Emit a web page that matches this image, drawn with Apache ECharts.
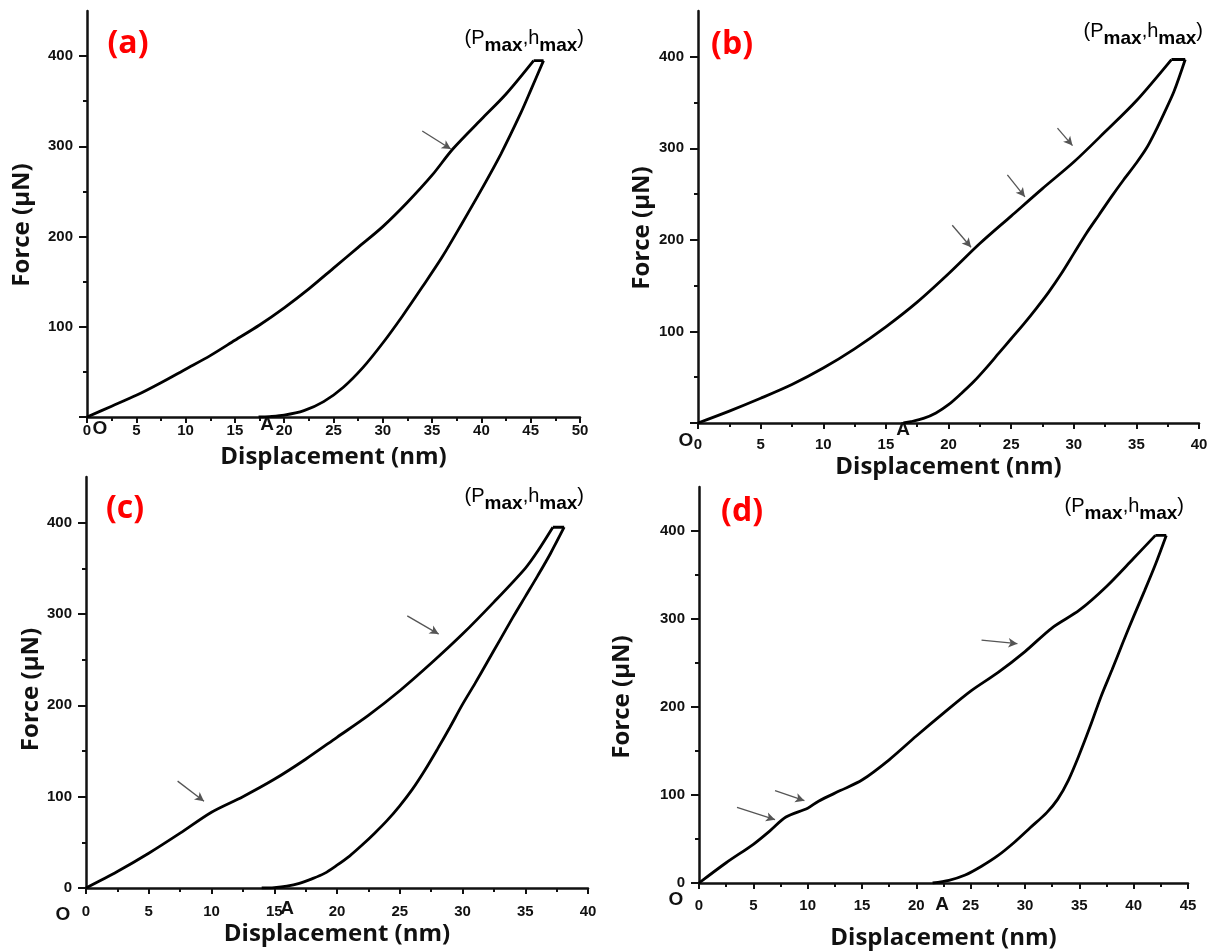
<!DOCTYPE html>
<html lang="en">
<head>
    <meta charset="UTF-8">
    <title>Load-displacement curves</title>
    <style>
        html, body { margin: 0; padding: 0; background: #fff; }
        #main { width: 1211px; height: 951px; }
    </style>
</head>
<body>
    <div id="main"></div>
    <script src="https://cdn.jsdelivr.net/npm/echarts@6/dist/echarts.min.js"></script>
    <script type="text/javascript">
        // loading / hold / unloading curves, [displacement nm, force uN]
        var loadA = [[0,0],[2.5,12],[5,24],[7.5,38],[10,53],[12.5,68],[15,85],[17.5,102],[20,121],[22.5,142],[25,165],[27.5,188],[30,211],[32.5,238],[35,268],[37.1,297],[40,330],[42.5,358],[45.3,395]];
        var holdA = [[45.3,395],[46.3,395]];
        var unloadA = [[46.3,395],[45,362],[44,337],[42,292],[40,252],[38,214],[36,177],[34,144],[32,112],[30,82],[28,55],[26,33],[24,17],[22,7],[20,2],[18.5,0.5],[17.4,0]];

        var loadB = [[0,0],[2.5,13],[5,27],[7.5,42],[10,60],[12.5,81],[15,105],[17.5,132],[20,163],[22.5,196],[25,226],[27.5,256],[30,285],[32.5,318],[35,352],[37.8,397]];
        var holdB = [[37.8,397],[38.9,397]];
        var unloadB = [[38.9,397],[38,362],[37.2,338],[36.5,318],[35.8,300],[35,284],[34,266],[33,247],[32,227],[31,207],[30,185],[29,163],[28,143],[27,125],[26,108],[25,92],[24,76],[23,60],[22,45],[21,32],[20,20],[19,11],[18,5],[17,1.5],[16.4,0]];

        var loadC = [[0,0],[2.5,18],[5,38],[7.5,60],[10,83],[12.5,100],[15,119],[17.5,141],[20,165],[22.5,189],[25,216],[27.5,246],[30,278],[32.5,313],[35,350],[36,369],[37.2,395]];
        var holdC = [[37.2,395],[38.1,395]];
        var unloadC = [[38.1,395],[37,366],[36,342],[35,319],[34,296],[33,272],[32,248],[31,224],[30,201],[29,176],[28,152],[27,129],[26,108],[25,90],[24,74],[23,60],[22,47],[21,35],[20,25],[19,16],[18,10],[17,5],[16,2],[15,0.5],[14,0]];

        var loadD = [[0,0],[2.5,23],[5,44],[6.5,59],[8,75],[10,85],[11,93],[13,105],[15,117],[17.5,140],[20,167],[22.5,193],[25,218],[27.5,239],[30,263],[32.5,290],[35,310],[37.5,337],[40,369],[42,395]];
        var holdD = [[42,395],[43,395]];
        var unloadD = [[43,395],[42,362],[41,332],[40,303],[39,273],[38,242],[37,212],[36,178],[35,146],[34,117],[33,95],[32,80],[30.5,63],[29,46],[27.5,31],[26,19],[24.5,9],[23,3],[21.5,0]];

        // arrows pointing at pop-in events, [from, to]
        var arrowsA = [[[34.0,317],[36.9,297]]];
        var arrowsB = [[[20.3,216],[21.8,192]], [[24.7,271],[26.1,247]], [[28.7,322],[29.9,303]]];
        var arrowsC = [[[7.3,117],[9.4,95]], [[25.6,298],[28.1,278]]];
        var arrowsD = [[[3.5,86],[7.0,72]], [[7.0,105],[9.7,93.5]], [[26.0,276],[29.3,272]]];

        var xMax = [50, 40, 40, 45];
        var yTicks = [0, 100, 200, 300, 400];

        var grids = [
            { left: 87, top: 11, width: 493, height: 406 },
            { left: 698, top: 11, width: 501, height: 412 },
            { left: 86, top: 477, width: 502, height: 411 },
            { left: 699, top: 487, width: 489, height: 396 }
        ];
        var xLabelMargin = [6, 14, 16, 15];
        var xNameGap = [28, 32, 34, 43];
        var yNameGap = [53, 44, 43, 65];
        var yNameShift = [22, 22, 14, 24];
        var showZero = [false, false, true, true];

        var tickFont = { color: '#111', fontSize: 15, fontWeight: 'bold', fontFamily: 'Liberation Sans, Arial, sans-serif' };
        var nameFontBase = { color: '#111', fontSize: 24, fontWeight: 'bold', fontFamily: 'Open Sans, Liberation Sans, sans-serif' };

        var xAxes = [], yAxes = [], series = [];
        for (var i = 0; i < 4; i++) {
            xAxes.push({
                type: 'value', gridIndex: i, min: 0, max: xMax[i], interval: 5,
                name: 'Displacement (nm)', nameLocation: 'middle', nameGap: xNameGap[i],
                nameTextStyle: nameFontBase,
                axisLine: { lineStyle: { color: '#111', width: 2.5 } },
                axisTick: { inside: false, length: 6, lineStyle: { color: '#111', width: 2 } },
                minorTick: { show: true, splitNumber: 2, length: 4, lineStyle: { color: '#111', width: 2 } },
                axisLabel: Object.assign({ margin: xLabelMargin[i] }, tickFont),
                splitLine: { show: false }
            });
            (function (zero, shift) {
                yAxes.push({
                    type: 'value', gridIndex: i, min: 0, max: 450, interval: 100,
                    name: 'Force (\u03bcN)', nameLocation: 'middle', nameGap: yNameGap[i], nameRotate: 90,
                    nameTextStyle: Object.assign({ padding: [0, shift, 0, 0] }, nameFontBase),
                    axisLine: { lineStyle: { color: '#111', width: 2.5 } },
                    axisTick: { inside: false, length: 8, customValues: yTicks, lineStyle: { color: '#111', width: 2 } },
                    minorTick: { show: true, splitNumber: 2, length: 4, lineStyle: { color: '#111', width: 2 } },
                    axisLabel: Object.assign({
                        margin: 14,
                        customValues: zero ? yTicks : yTicks.slice(1),
                        formatter: function (v) {
                            if (v > 400) return '';
                            if (v === 0 && !zero) return '';
                            return v;
                        }
                    }, tickFont),
                    splitLine: { show: false }
                });
            })(showZero[i], yNameShift[i]);
        }

        var loads = [loadA, loadB, loadC, loadD];
        var holds = [holdA, holdB, holdC, holdD];
        var unloads = [unloadA, unloadB, unloadC, unloadD];
        var arrows = [arrowsA, arrowsB, arrowsC, arrowsD];

        var curveLine = { color: '#000', width: 2.8 };
        for (var j = 0; j < 4; j++) {
            series.push({
                type: 'line', xAxisIndex: j, yAxisIndex: j, data: loads[j],
                showSymbol: false, smooth: 0.3, silent: true, lineStyle: curveLine,
                markLine: {
                    silent: true, symbol: ['none', 'arrow'], symbolSize: [7, 9],
                    label: { show: false },
                    lineStyle: { color: '#555', width: 1.3, type: 'solid' },
                    data: arrows[j].map(function (a) {
                        return [{ coord: a[0] }, { coord: a[1] }];
                    })
                }
            });
            series.push({
                type: 'line', xAxisIndex: j, yAxisIndex: j, data: holds[j],
                showSymbol: false, silent: true, lineStyle: curveLine
            });
            series.push({
                type: 'line', xAxisIndex: j, yAxisIndex: j, data: unloads[j],
                showSymbol: false, smooth: 0.3, silent: true, lineStyle: curveLine
            });
        }

        // text annotations
        var panelTags = [['(a)', 128, 44], ['(b)', 732, 45], ['(c)', 125, 509], ['(d)', 742, 512]];
        var pmaxPos = [[584, 42], [1203, 35], [584, 500], [1184, 510]];
        var oPos = [[100, 429], [686, 441], [63, 915], [676, 900]];
        var aPos = [[267, 425], [903, 430], [287, 909], [942, 905]];

        var graphic = [];
        panelTags.forEach(function (t) {
            graphic.push({
                type: 'text', x: t[1], y: t[2],
                style: { text: t[0], fill: '#f00', font: 'bold 32px "Open Sans", sans-serif', textAlign: 'center', textVerticalAlign: 'middle' }
            });
        });
        pmaxPos.forEach(function (p) {
            graphic.push({
                type: 'text', x: p[0], y: p[1],
                style: {
                    text: '{n|(P}{s|max}{n|,h}{s|max}{n|)}',
                    textAlign: 'right',
                    textVerticalAlign: 'middle',
                    rich: {
                        n: { fontSize: 20, fontFamily: 'Liberation Sans, Arial', color: '#111', verticalAlign: 'top', lineHeight: 20 },
                        s: { fontSize: 19, fontWeight: 'bold', fontFamily: 'Liberation Sans, Arial', color: '#111', verticalAlign: 'bottom', lineHeight: 27 }
                    }
                }
            });
        });
        oPos.forEach(function (p) {
            graphic.push({
                type: 'text', x: p[0], y: p[1],
                style: { text: 'O', fill: '#111', font: 'bold 19px "Liberation Sans", Arial', textAlign: 'center', textVerticalAlign: 'middle' }
            });
        });
        aPos.forEach(function (p) {
            graphic.push({
                type: 'text', x: p[0], y: p[1],
                style: { text: 'A', fill: '#111', font: 'bold 19px "Liberation Sans", Arial', textAlign: 'center', textVerticalAlign: 'middle' }
            });
        });

        var chart = echarts.init(document.getElementById('main'));
        chart.setOption({
            backgroundColor: '#fff',
            animation: false,
            grid: grids,
            xAxis: xAxes,
            yAxis: yAxes,
            series: series,
            graphic: graphic
        });
    </script>
</body>
</html>
